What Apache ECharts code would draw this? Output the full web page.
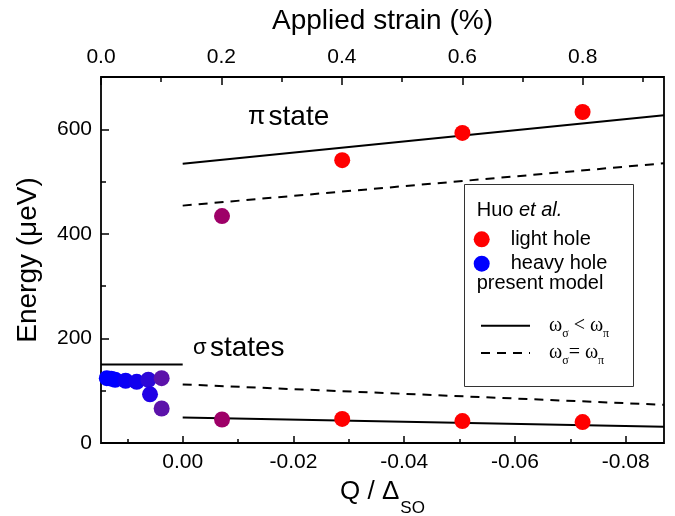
<!DOCTYPE html>
<html><head><meta charset="utf-8">
<script src="https://cdn.jsdelivr.net/npm/echarts@6/dist/echarts.min.js"></script>
<style>html,body{margin:0;padding:0;background:#fff}#c{width:675px;height:516px}</style>
</head><body><div id="c"></div>
<script>
// ---- axis ranges and ticks ----
const qRange = [-0.0869, 0.01475];          // Q / Delta_SO (axis is reversed)
const strainRange = [0, 0.935];             // applied strain (%)
const energyRange = [0, 700];               // micro-eV
const qMajorTicks = [0, -0.02, -0.04, -0.06, -0.08];
const qMinorTicks = [0.01, -0.01, -0.03, -0.05, -0.07];
const strainMajorTicks = [0, 0.2, 0.4, 0.6, 0.8];
const strainMinorTicks = [0.1, 0.3, 0.5, 0.7, 0.9];
const energyMajorTicks = [0, 200, 400, 600];
const energyMinorTicks = [100, 300, 500];

// ---- Huo et al. data ----
const lightHoleQ = [-0.0071, -0.0288, -0.0505, -0.0722, -0.0071, -0.0288, -0.0505, -0.0722];
const lightHoleE = [45, 46, 42, 40, 434, 541, 593, 633];
const heavyHoleQ = [0.0137, 0.0129, 0.0122, 0.0103, 0.0083, 0.0062, 0.0059, 0.0038, 0.0038];
const heavyHoleE = [124, 123, 121, 119, 117, 121, 93, 124, 66];

// ---- present model ----
const modelQ = [0, -0.0869];
const piSolidE = [534, 627];
const piDashedE = [454, 535];
const sigmaSolidE = [49, 31];
const sigmaDashedE = [112, 73];
const sigmaZeroQ = [0.01475, 0];
const sigmaZeroE = [150, 150];

// ---- point colours (style) ----
const lightHoleColors = ['#9e0068','#ff0000','#ff0000','#ff0000','#9e0068','#ff0000','#ff0000','#ff0000'];
const heavyHoleColors = ['#0000ff','#0000ff','#0000ff','#0a00f5','#1200ee','#2c08d8','#2000e6','#5c12aa','#5c12aa'];

const FONT = 'Liberation Sans, Arial, sans-serif';
const SERIF = 'Liberation Serif, Times New Roman, serif';
const SOLID_NAME = 'model solid';
const DASH_NAME = 'model dashed';

function pts(xs, ys, colors) {
  return xs.map((x, i) => colors ? ({ value: [x, ys[i]], itemStyle: { color: colors[i] } }) : [x, ys[i]]);
}
function lineSeries(name, xs, ys, type) {
  return {
    name, type: 'line', data: pts(xs, ys), symbol: 'none', showSymbol: false, silent: true,
    color: '#000', lineStyle: { color: '#000', width: 2, type }, z: 3, animation: false
  };
}
const tickStyle = { color: '#000', width: 1.5 };
const labelStyle = { color: '#000', fontSize: 21, fontFamily: FONT };
const noLine = { show: false, onZero: false };

const omegaRich = {
  sp: { width: 14 },
  w: { fontFamily: SERIF, fontSize: 20, color: '#000', lineHeight: 28, verticalAlign: 'middle' },
  s: { fontFamily: SERIF, fontSize: 12, color: '#000', lineHeight: 12, verticalAlign: 'bottom' }
};

const chart = echarts.init(document.getElementById('c'), null, { renderer: 'canvas' });
chart.setOption({
  animation: false,
  backgroundColor: '#fff',
  grid: { left: 101, right: 11, top: 77, bottom: 73, show: true, borderColor: '#000', borderWidth: 1.8,
          backgroundColor: 'transparent', outerBoundsMode: 'none', containLabel: false },
  xAxis: [
    { type: 'value', position: 'bottom', min: qRange[0], max: qRange[1], inverse: true,
      axisLine: noLine, splitLine: { show: false },
      axisTick: { show: true, inside: true, length: 7, customValues: qMajorTicks, lineStyle: tickStyle },
      axisLabel: Object.assign({ customValues: qMajorTicks, margin: 9, formatter: v => v.toFixed(2) }, labelStyle),
      name: '{a|Q / Δ}{b|SO}', nameLocation: 'middle', nameGap: 36,
      nameTextStyle: { rich: {
        a: { fontSize: 26, fontFamily: FONT, color: '#000', lineHeight: 30, verticalAlign: 'top' },
        b: { fontSize: 17, fontFamily: FONT, color: '#000', lineHeight: 20, verticalAlign: 'top', padding: [21, 0, 0, 1] }
      } } },
    { type: 'value', position: 'bottom', min: qRange[0], max: qRange[1], inverse: true,
      axisLine: noLine, splitLine: { show: false },
      axisTick: { show: true, inside: true, length: 4, customValues: qMinorTicks, lineStyle: tickStyle },
      axisLabel: { show: false } },
    { type: 'value', position: 'top', min: strainRange[0], max: strainRange[1],
      axisLine: noLine, splitLine: { show: false },
      axisTick: { show: true, inside: true, length: 8, customValues: strainMajorTicks, lineStyle: tickStyle },
      axisLabel: Object.assign({ customValues: strainMajorTicks, margin: 9, formatter: v => v.toFixed(1) }, labelStyle),
      name: 'Applied strain (%)', nameLocation: 'middle', nameGap: 42,
      nameTextStyle: { fontSize: 28, fontFamily: FONT, color: '#000' } },
    { type: 'value', position: 'top', min: strainRange[0], max: strainRange[1],
      axisLine: noLine, splitLine: { show: false },
      axisTick: { show: true, inside: true, length: 5, customValues: strainMinorTicks, lineStyle: tickStyle },
      axisLabel: { show: false } }
  ],
  yAxis: [
    { type: 'value', position: 'left', min: energyRange[0], max: energyRange[1],
      axisLine: noLine, splitLine: { show: false },
      axisTick: { show: true, inside: true, length: 8, customValues: energyMajorTicks, lineStyle: tickStyle },
      axisLabel: Object.assign({ customValues: energyMajorTicks, margin: 9 }, labelStyle),
      name: 'Energy (μeV)', nameLocation: 'middle', nameGap: 59,
      nameTextStyle: { fontSize: 28, fontFamily: FONT, color: '#000' } },
    { type: 'value', position: 'left', min: energyRange[0], max: energyRange[1],
      axisLine: noLine, splitLine: { show: false },
      axisTick: { show: true, inside: true, length: 5, customValues: energyMinorTicks, lineStyle: tickStyle },
      axisLabel: { show: false } }
  ],
  legend: [
    { data: ['light hole'], left: 473.7, top: 229.3, padding: 0, itemWidth: 48, itemHeight: 16, icon: 'circle',
      selectedMode: false, itemStyle: { opacity: 1 }, textStyle: { fontSize: 20, fontFamily: FONT, color: '#000' } },
    { data: ['heavy hole'], left: 473.7, top: 253.7, padding: 0, itemWidth: 48, itemHeight: 16, icon: 'circle',
      selectedMode: false, itemStyle: { opacity: 1 }, textStyle: { fontSize: 20, fontFamily: FONT, color: '#000' } },
    { data: [SOLID_NAME], left: 480, top: 315.7, padding: 0, itemWidth: 49, itemHeight: 14, selectedMode: false,
      itemStyle: { opacity: 0, color: 'rgba(0,0,0,0)', borderWidth: 0 },
      formatter: () => '{sp|}{w|ω}{s|σ}{w| < ω}{s|π}', textStyle: { rich: omegaRich } },
    { data: [DASH_NAME], left: 480, top: 343, padding: 0, itemWidth: 49, itemHeight: 14, selectedMode: false,
      itemStyle: { opacity: 0, color: 'rgba(0,0,0,0)', borderWidth: 0 },
      formatter: () => '{sp|}{w|ω}{s|σ}{w|= ω}{s|π}', textStyle: { rich: omegaRich } }
  ],
  graphic: [
    { type: 'rect', shape: { x: 464.5, y: 184.5, width: 169, height: 202 }, style: { fill: 'none', stroke: '#333', lineWidth: 1 }, z: 1, silent: true },
    { type: 'text', x: 476.7, y: 210, silent: true, style: {
        text: '{n|Huo }{i|et al.}', verticalAlign: 'middle',
        rich: { n: { fontSize: 20, fontFamily: FONT, fill: '#000' }, i: { fontSize: 20, fontFamily: FONT, fontStyle: 'italic', fill: '#000' } } } },
    { type: 'text', x: 476.7, y: 283, silent: true, style: { text: 'present model', fontSize: 20, fontFamily: FONT, fill: '#000', verticalAlign: 'middle' } },
    { type: 'text', x: 248, y: 117, silent: true, style: {
        text: '{g|π} {t|state}', verticalAlign: 'middle',
        rich: { g: { fontSize: 25, fontFamily: FONT, fill: '#000' }, t: { fontSize: 28, fontFamily: FONT, fill: '#000' } } } },
    { type: 'text', x: 193, y: 348, silent: true, style: {
        text: '{g|σ} {t|states}', verticalAlign: 'middle',
        rich: { g: { fontSize: 22, fontFamily: FONT, fill: '#000' }, t: { fontSize: 28, fontFamily: FONT, fill: '#000' } } } }
  ],
  series: [
    lineSeries(SOLID_NAME, sigmaZeroQ, sigmaZeroE, 'solid'),
    lineSeries(SOLID_NAME, modelQ, piSolidE, 'solid'),
    lineSeries(SOLID_NAME, modelQ, sigmaSolidE, 'solid'),
    lineSeries(DASH_NAME, modelQ, piDashedE, [9, 7]),
    lineSeries(DASH_NAME, modelQ, sigmaDashedE, [9, 7]),
    { name: 'heavy hole', type: 'scatter', symbol: 'circle', symbolSize: 16, color: '#0000ff',
      itemStyle: { opacity: 1 }, data: pts(heavyHoleQ, heavyHoleE, heavyHoleColors), z: 5, silent: true },
    { name: 'light hole', type: 'scatter', symbol: 'circle', symbolSize: 16, color: '#ff0000',
      itemStyle: { opacity: 1 }, data: pts(lightHoleQ, lightHoleE, lightHoleColors), z: 5, silent: true }
  ]
});
</script></body></html>
